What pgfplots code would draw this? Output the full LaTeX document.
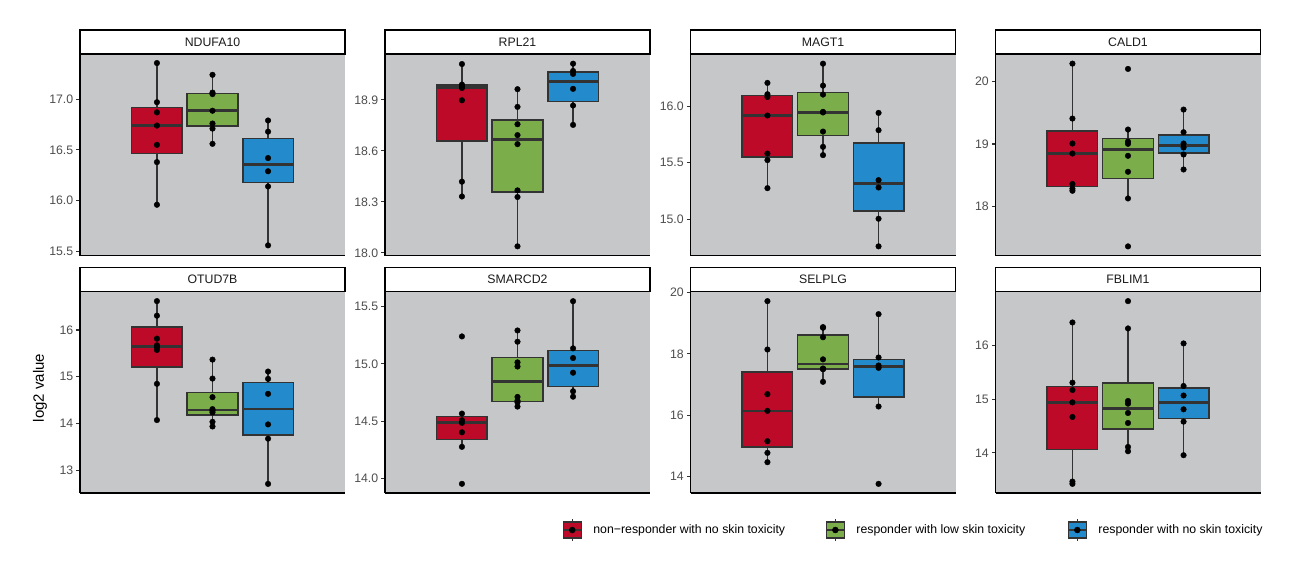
\documentclass[border=0pt]{standalone}
\usepackage{pgfplots}
\pgfplotsset{compat=1.18}
\usepackage{fontspec}
\setmainfont{Liberation Sans}
\definecolor{redc}{RGB}{188,10,40}
\definecolor{greenc}{RGB}{123,173,75}
\definecolor{bluec}{RGB}{35,139,203}
\definecolor{panelbg}{RGB}{198,199,201}
\definecolor{dk}{RGB}{51,51,51}
\definecolor{tickc}{RGB}{77,77,77}
\definecolor{stripc}{RGB}{26,26,26}

\tikzset{strip/.style={anchor=south, draw=black, fill=white, line width=1.07pt,
      minimum width=265pt, minimum height=24pt, inner sep=0pt, font=\fontsize{12.3}{14}\selectfont, text=stripc}}
\pgfplotsset{
  panel/.style={
    scale only axis, width=265pt, height=201pt,
    anchor=north west,
    xmin=-0.385, xmax=4.385,
    xtick=\empty,
    clip mode=individual,
    axis lines*=left, axis line style={-, black, line width=1.07pt},
    axis background/.style={fill=panelbg},
    tick align=outside, major tick length=3.7pt,
    ytick style={dk, line width=1.07pt},
    yticklabel style={font=\fontsize{12.3}{14}\selectfont, text=tickc, inner sep=0pt, xshift=-2.9pt},
  },
  pts/.style={only marks, mark=*, mark size=2.8pt, black},
  leg/.style={hide axis, scale only axis, width=1294pt, height=565pt, at={(0pt,0pt)}, anchor=north west,
    xmin=0, xmax=1294, ymin=-565, ymax=0,
    legend style={anchor=west, draw=none, fill=none, inner sep=0pt, column sep=11pt,
      font=\fontsize{12.3}{14}\selectfont, nodes={inner sep=0pt}}},
}
% #1 colour, #2 box left, #3 centre, #4 box right,
% #5 lower whisker, #6 lower quartile, #7 median, #8 upper quartile, #9 upper whisker
\newcommand{\bx}[9]{%
  \addplot[dk, line width=1.5pt] coordinates {(#3,#5)(#3,#6)};
  \addplot[dk, line width=1.5pt] coordinates {(#3,#8)(#3,#9)};
  \addplot[draw=dk, fill=#1, line width=1.5pt] coordinates {(#2,#6)(#4,#6)(#4,#8)(#2,#8)} -- cycle;
  \addplot[dk, line width=2.7pt] coordinates {(#2,#7)(#4,#7)};}
\newcommand{\keycode}[1]{%
  \draw[dk, line width=1.3pt] (9pt,-11pt) -- (9pt,11pt);
  \draw[dk, line width=1.3pt, fill=#1] (0pt,-8pt) rectangle (18pt,8pt);
  \draw[dk, line width=2.2pt] (0pt,0pt) -- (18pt,0pt);
  \fill[black] (9pt,0pt) circle (3pt);}

\begin{document}
\begin{tikzpicture}
\path[use as bounding box] (0pt,0pt) rectangle (1294pt,-565pt);

% ---------- Row 1 ----------
\begin{axis}[panel, at={(80pt,-54.5pt)}, ymin=15.46, ymax=17.44,
  ytick={15.5,16.0,16.5,17.0}, yticklabels={15.5,16.0,16.5,17.0}]
\bx{redc}{0.545}{1}{1.455}{15.96}{16.465}{16.74}{16.92}{17.356}
\bx{greenc}{1.545}{2}{2.455}{16.56}{16.735}{16.886}{17.058}{17.24}
\bx{bluec}{2.545}{3}{3.455}{15.56}{16.177}{16.355}{16.615}{16.79}
\addplot[pts] coordinates {(1,17.356)(1,16.97)(1,16.87)(1,16.74)(1,16.55)(1,16.38)(1,15.96)};
\addplot[pts] coordinates {(2,17.24)(2,17.065)(2,17.05)(2,16.886)(2,16.76)(2,16.71)(2,16.56)};
\addplot[pts] coordinates {(3,16.79)(3,16.68)(3,16.42)(3,16.29)(3,16.14)(3,15.56)};
\node[strip] at (rel axis cs:0.5,1) {NDUFA10};
\end{axis}

\begin{axis}[panel, at={(385pt,-54.5pt)}, ymin=17.985, ymax=19.167,
  ytick={18.0,18.3,18.6,18.9}, yticklabels={18.0,18.3,18.6,18.9}]
\bx{redc}{0.545}{1}{1.455}{18.332}{18.659}{18.975}{18.988}{19.111}
\bx{greenc}{1.545}{2}{2.455}{18.039}{18.358}{18.667}{18.781}{18.963}
\bx{bluec}{2.545}{3}{3.455}{18.753}{18.89}{19.009}{19.064}{19.113}
\addplot[pts] coordinates {(1,19.111)(1,18.99)(1,18.98)(1,18.97)(1,18.898)(1,18.419)(1,18.332)};
\addplot[pts] coordinates {(2,18.963)(2,18.859)(2,18.757)(2,18.693)(2,18.640)(2,18.368)(2,18.329)(2,18.039)};
\addplot[pts] coordinates {(3,19.113)(3,19.07)(3,19.053)(3,18.965)(3,18.867)(3,18.753)};
\node[strip] at (rel axis cs:0.5,1) {RPL21};
\end{axis}

\begin{axis}[panel, at={(690.5pt,-54.5pt)}, ymin=14.681, ymax=16.457,
  ytick={15.0,15.5,16.0}, yticklabels={15.0,15.5,16.0}]
\bx{redc}{0.545}{1}{1.455}{15.276}{15.553}{15.918}{16.094}{16.206}
\bx{greenc}{1.545}{2}{2.455}{15.568}{15.742}{15.947}{16.123}{16.376}
\bx{bluec}{2.545}{3}{3.455}{14.762}{15.075}{15.315}{15.676}{15.941}
\addplot[pts] coordinates {(1,16.206)(1,16.106)(1,16.082)(1,15.918)(1,15.582)(1,15.524)(1,15.276)};
\addplot[pts] coordinates {(2,16.376)(2,16.182)(2,16.103)(2,15.95)(2,15.945)(2,15.776)(2,15.641)(2,15.568)};
\addplot[pts] coordinates {(3,15.941)(3,15.788)(3,15.347)(3,15.282)(3,15.006)(3,14.762)};
\node[strip] at (rel axis cs:0.5,1) {MAGT1};
\end{axis}

\begin{axis}[panel, at={(995.5pt,-54.5pt)}, ymin=17.214, ymax=20.434,
  ytick={18,19,20}, yticklabels={18,19,20}]
\bx{redc}{0.545}{1}{1.455}{18.251}{18.32}{18.848}{19.208}{20.288}
\bx{greenc}{1.545}{2}{2.455}{18.128}{18.448}{18.907}{19.088}{19.232}
\bx{bluec}{2.545}{3}{3.455}{18.592}{18.86}{18.976}{19.144}{19.552}
\addplot[pts] coordinates {(1,20.288)(1,19.408)(1,19.008)(1,18.848)(1,18.36)(1,18.285)(1,18.251)};
\addplot[pts] coordinates {(2,20.203)(2,19.232)(2,19.04)(2,19.003)(2,18.811)(2,18.555)(2,18.128)(2,17.36)};
\addplot[pts] coordinates {(3,19.552)(3,19.189)(3,19.008)(3,18.944)(3,18.832)(3,18.592)};
\node[strip] at (rel axis cs:0.5,1) {CALD1};
\end{axis}

% ---------- Row 2 ----------
\begin{axis}[panel, at={(80pt,-292pt)}, ymin=12.514, ymax=16.813,
  ytick={13,14,15,16}, yticklabels={13,14,15,16}]
\bx{redc}{0.545}{1}{1.455}{14.074}{15.211}{15.65}{16.06}{16.618}
\bx{greenc}{1.545}{2}{2.455}{13.937}{14.187}{14.29}{14.664}{15.367}
\bx{bluec}{2.545}{3}{3.455}{12.709}{13.752}{14.308}{14.875}{15.112}
\addplot[pts] coordinates {(1,16.618)(1,16.306)(1,15.815)(1,15.673)(1,15.63)(1,15.574)(1,14.849)(1,14.074)};
\addplot[pts] coordinates {(2,15.367)(2,14.962)(2,14.564)(2,14.308)(2,14.273)(2,14.237)(2,14.036)(2,13.937)};
\addplot[pts] coordinates {(3,15.112)(3,14.955)(3,14.635)(3,13.981)(3,13.676)(3,12.709)};
\node[strip] at (rel axis cs:0.5,1) {OTUD7B};
\end{axis}

\begin{axis}[panel, at={(385pt,-292pt)}, ymin=13.875, ymax=15.626,
  ytick={14.0,14.5,15.0,15.5}, yticklabels={14.0,14.5,15.0,15.5}]
\bx{redc}{0.545}{1}{1.455}{14.277}{14.341}{14.488}{14.54}{14.567}
\bx{greenc}{1.545}{2}{2.455}{14.628}{14.674}{14.845}{15.056}{15.291}
\bx{bluec}{2.545}{3}{3.455}{14.714}{14.801}{14.987}{15.116}{15.546}
\addplot[pts] coordinates {(1,15.239)(1,14.567)(1,14.509)(1,14.486)(1,14.404)(1,14.277)(1,13.955)};
\addplot[pts] coordinates {(2,15.291)(2,15.193)(2,15.013)(2,14.977)(2,14.712)(2,14.68)(2,14.665)(2,14.628)};
\addplot[pts] coordinates {(3,15.546)(3,15.135)(3,15.051)(3,14.923)(3,14.761)(3,14.714)};
\node[strip] at (rel axis cs:0.5,1) {SMARCD2};
\end{axis}

\begin{axis}[panel, at={(690.5pt,-292pt)}, ymin=13.463, ymax=20.015,
  ytick={14,16,18,20}, yticklabels={14,16,18,20}]
\bx{redc}{0.545}{1}{1.455}{14.467}{14.96}{16.141}{17.41}{19.717}
\bx{greenc}{1.545}{2}{2.455}{17.087}{17.51}{17.67}{18.61}{18.87}
\bx{bluec}{2.545}{3}{3.455}{16.283}{16.598}{17.58}{17.815}{19.293}
\addplot[pts] coordinates {(1,19.717)(1,18.141)(1,16.685)(1,16.141)(1,15.152)(1,14.772)(1,14.467)};
\addplot[pts] coordinates {(2,18.87)(2,18.85)(2,18.54)(2,17.82)(2,17.52)(2,17.51)(2,17.50)(2,17.087)};
\addplot[pts] coordinates {(3,19.293)(3,17.88)(3,17.62)(3,17.543)(3,16.283)(3,13.761)};
\node[strip] at (rel axis cs:0.5,1) {SELPLG};
\end{axis}

\begin{axis}[panel, at={(995.5pt,-292pt)}, ymin=13.254, ymax=16.994,
  ytick={14,15,16}, yticklabels={14,15,16}]
\bx{redc}{0.545}{1}{1.455}{13.424}{14.068}{14.941}{15.238}{16.427}
\bx{greenc}{1.545}{2}{2.455}{14.031}{14.446}{14.83}{15.3}{16.316}
\bx{bluec}{2.545}{3}{3.455}{13.957}{14.639}{14.94}{15.205}{16.037}
\addplot[pts] coordinates {(1,16.427)(1,15.307)(1,15.17)(1,14.941)(1,14.669)(1,13.467)(1,13.424)};
\addplot[pts] coordinates {(2,16.824)(2,16.316)(2,14.966)(2,14.916)(2,14.743)(2,14.557)(2,14.111)(2,14.031)};
\addplot[pts] coordinates {(3,16.037)(3,15.245)(3,15.068)(3,14.811)(3,14.582)(3,13.957)};
\node[strip] at (rel axis cs:0.5,1) {FBLIM1};
\end{axis}

% ---------- y label ----------
\node[rotate=90, font=\fontsize{15}{17}\selectfont] at (40pt,-388pt) {log2 value};

% ---------- legend ----------
\begin{axis}[leg, legend style={at={(0.4343,0.0619)}}]
\addlegendimage{legend image code/.code={\keycode{redc}}}
\addlegendentry{non−responder with no skin toxicity}
\end{axis}
\begin{axis}[leg, legend style={at={(0.6376,0.0619)}}]
\addlegendimage{legend image code/.code={\keycode{greenc}}}
\addlegendentry{responder with low skin toxicity}
\end{axis}
\begin{axis}[leg, legend style={at={(0.8246,0.0619)}}]
\addlegendimage{legend image code/.code={\keycode{bluec}}}
\addlegendentry{responder with no skin toxicity}
\end{axis}
\end{tikzpicture}
\end{document}
